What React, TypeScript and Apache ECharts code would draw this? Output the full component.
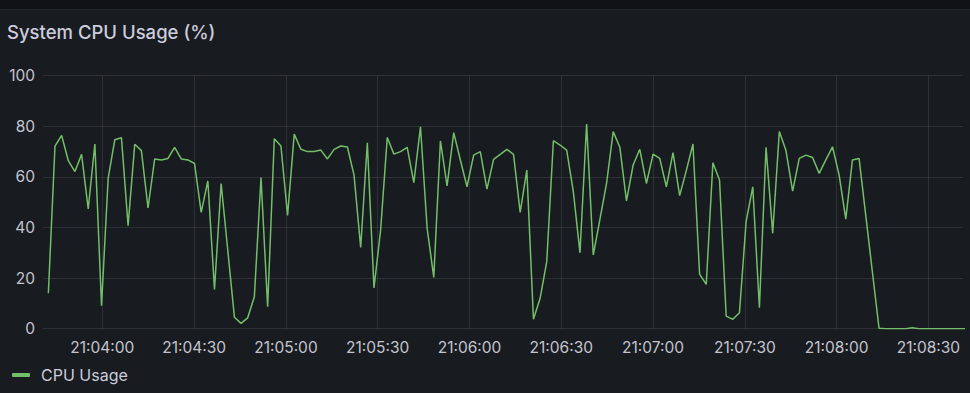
import React, { useEffect, useRef } from "react";
import * as echarts from "echarts";

const seriesName = "CPU Usage";
const chartTitle = "System CPU Usage (%)";
const yTicks = [0, 20, 40, 60, 80, 100];
const xTickLabels = [
  "21:04:00", "21:04:30", "21:05:00", "21:05:30", "21:06:00",
  "21:06:30", "21:07:00", "21:07:30", "21:08:00", "21:08:30",
];

// sample start (local time) and scrape step in ms
const startTime = new Date(2024, 0, 1, 21, 3, 42, 350).getTime();
const stepMs = 2172;
const axisMin = new Date(2024, 0, 1, 21, 3, 40, 600).getTime();
const axisMax = new Date(2024, 0, 1, 21, 8, 41, 300).getTime();

const cpuValues = [
  14.0, 72.2, 76.4, 66.4, 62.1, 68.9, 47.3, 73.0, 9.1, 59.4,
  74.7, 75.5, 40.7, 72.9, 70.4, 47.7, 67.1, 66.7, 67.3, 71.7,
  67.1, 66.7, 65.3, 46.0, 58.4, 15.5, 57.4, 31.0, 4.5, 2.1,
  4.3, 12.6, 59.7, 8.7, 75.1, 72.2, 44.8, 76.9, 70.9, 70.0,
  70.0, 70.6, 67.1, 70.9, 72.2, 71.8, 60.7, 32.1, 73.5, 16.1,
  39.0, 75.6, 69.0, 70.0, 71.7, 57.7, 79.8, 39.7, 20.3, 74.2,
  56.4, 77.5, 66.7, 56.1, 68.6, 70.0, 55.2, 66.9, 68.9, 70.9,
  68.9, 46.0, 62.7, 3.7, 12.0, 26.5, 74.3, 72.6, 70.6, 54.2,
  30.0, 80.9, 29.1, 43.2, 57.4, 77.9, 71.7, 50.5, 64.7, 70.9,
  57.4, 69.0, 67.3, 56.1, 69.6, 52.6, 62.5, 73.0, 21.6, 17.5,
  65.6, 58.8, 5.0, 3.7, 6.3, 42.3, 56.1, 8.3, 71.7, 37.7,
  77.9, 70.4, 54.4, 67.3, 68.6, 67.7, 61.4, 66.7, 71.9, 60.7,
  43.3, 66.7, 67.3, 44.9, 22.5, 0.2, 0, 0, 0, 0,
  0.4, 0, 0, 0, 0, 0, 0, 0, 0,
];

const pad = (n: number) => (n < 10 ? "0" + n : "" + n);
const parseTick = (s: string) => {
  const [h, m, sec] = s.split(":").map(Number);
  return new Date(2024, 0, 1, h, m, sec, 0).getTime();
};

export default function App() {
  const ref = useRef<HTMLDivElement>(null);

  useEffect(() => {
    if (!ref.current) return;
    const chart = echarts.init(ref.current, undefined, { renderer: "svg" });
    const data = cpuValues.map((v, i) => [startTime + i * stepMs, v]);
    const tickValues = xTickLabels.map(parseTick);
    chart.setOption({
      animation: false,
      backgroundColor: "#181b1f",
      graphic: [
        {
          type: "rect",
          shape: { x: 0, y: 0, width: 970, height: 9 },
          style: { fill: "#111217" },
          silent: true,
        },
        {
          type: "rect",
          shape: { x: 0, y: 9, width: 970, height: 1 },
          style: { fill: "#25282d" },
          silent: true,
        },
        {
          type: "text",
          left: 7,
          top: 22,
          style: {
            text: chartTitle,
            fill: "#ccccdc",
            font: "500 18.5px Inter, 'Noto Sans', sans-serif",
          },
        },
      ],
      grid: { left: 43, right: 7, top: 75.7, bottom: 64.3, containLabel: false },
      legend: {
        left: 12,
        top: 367,
        padding: 0,
        icon: "roundRect",
        itemWidth: 18,
        itemHeight: 4,
        textStyle: {
          color: "#ccccdc",
          fontSize: 16,
          fontFamily: "Inter, 'Noto Sans', sans-serif",
          padding: [0, 0, 0, 6],
        },
        data: [seriesName],
      },
      xAxis: {
        type: "value",
        min: axisMin,
        max: axisMax,
        axisLine: { show: false },
        axisTick: { show: false, customValues: tickValues },
        splitLine: { show: true, lineStyle: { color: "rgba(204,204,220,0.12)", width: 1 } },
        axisLabel: {
          customValues: tickValues,
          color: "#c4c4cf",
          fontSize: 15.5,
          fontFamily: "Inter, 'Noto Sans', sans-serif",
          margin: 11,
          formatter: (val: number) => {
            const d = new Date(val);
            return pad(d.getHours()) + ":" + pad(d.getMinutes()) + ":" + pad(d.getSeconds());
          },
        },
      },
      yAxis: {
        type: "value",
        min: yTicks[0],
        max: yTicks[yTicks.length - 1],
        interval: 20,
        axisLine: { show: false },
        axisTick: { show: false },
        splitLine: { show: true, lineStyle: { color: "rgba(204,204,220,0.12)", width: 1 } },
        axisLabel: {
          color: "#c4c4cf",
          fontSize: 15.5,
          fontFamily: "Inter, 'Noto Sans', sans-serif",
          margin: 8,
        },
      },
      series: [
        {
          name: seriesName,
          type: "line",
          data,
          showSymbol: false,
          symbol: "none",
          color: "#73BF69",
          lineStyle: { color: "#73BF69", width: 1.5 },
          clip: true,
        },
      ],
    });
    return () => chart.dispose();
  }, []);

  return (
    <div
      ref={ref}
      style={{ position: "fixed", left: 0, top: 0, width: 970, height: 393, background: "#181b1f" }}
    />
  );
}
